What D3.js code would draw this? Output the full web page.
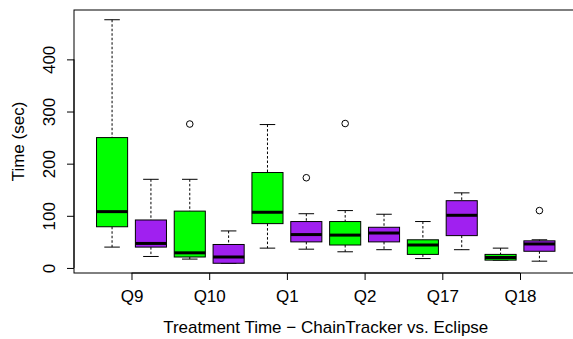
<!DOCTYPE html>
<html>
<head>
<meta charset="utf-8">
<script src="https://cdn.jsdelivr.net/npm/d3@7"></script>
<style>
  body { margin: 0; background: #fff; }
  text { font-family: "Liberation Sans", Arial, sans-serif; fill: #000; }
</style>
</head>
<body>
<div id="plot"></div>
<script>
// questions on the x axis
const questions = ["Q9", "Q10", "Q1", "Q2", "Q17", "Q18"];
const treatments = ["ChainTracker", "Eclipse"];
const fills = ["#00ff00", "#a020f0"];

// box stats per question: [lower whisker, Q1, median, Q3, upper whisker]
const chainTrackerStats = [
    [40, 79, 108, 250, 476],
    [17, 21, 29, 109, 170],
    [38, 85, 107, 183, 275],
    [31, 44, 63, 89, 110],
    [18, 26, 44, 54, 89],
    [15, 15, 20, 26, 38]
];
const eclipseStats = [
    [22, 40, 47, 92, 170],
    [9, 9, 21, 45, 71],
    [36, 50, 64, 89, 104],
    [35, 50, 67, 78, 103],
    [35, 62, 101, 129, 144],
    [13, 32, 46, 52, 54]
];
// outliers per question
const chainTrackerOutliers = [[], [276], [], [277], [], []];
const eclipseOutliers = [[], [], [173], [], [], [110]];

const yTicks = [0, 100, 200, 300, 400];

const width = 573, height = 339;
const margin = { top: 10, left: 74, bottom: 66 };
const plotBottom = height - margin.bottom;
const fontSize = "17px";

// one box per question and treatment, positioned 1..12
const boxes = [];
questions.forEach(function (q, i) {
    [chainTrackerStats, eclipseStats].forEach(function (stats, t) {
        const s = stats[i];
        boxes.push({
            pos: 2 * i + 1 + t,
            lo: s[0], q1: s[1], med: s[2], q3: s[3], hi: s[4],
            out: (t === 0 ? chainTrackerOutliers : eclipseOutliers)[i],
            fill: fills[t]
        });
    });
});

// R style axis: 4% extension on both sides
const n = boxes.length;
const xScale = d3.scaleLinear()
    .domain([0.5 - 0.04 * n, n + 0.5 + 0.04 * n])
    .range([margin.left, margin.left + 503.5]);

const allVals = boxes.flatMap(d => [d.lo, d.hi].concat(d.out));
const yMin = d3.min(allVals), yMax = d3.max(allVals);
const pad = (yMax - yMin) * 0.04;
const yScale = d3.scaleLinear()
    .domain([yMin - pad, yMax + pad])
    .range([plotBottom, margin.top]);

const svg = d3.select("#plot")
    .append("svg")
    .attr("width", width)
    .attr("height", height);

const boxW = xScale(0.8) - xScale(0);
const capW = boxW / 2;

const g = svg.selectAll("g.box")
    .data(boxes)
    .enter().append("g")
    .attr("class", "box");

// whiskers
g.append("line")
    .attr("x1", d => xScale(d.pos)).attr("x2", d => xScale(d.pos))
    .attr("y1", d => yScale(d.hi)).attr("y2", d => yScale(d.q3))
    .attr("stroke", "#000").attr("stroke-dasharray", "2.5,2");
g.append("line")
    .attr("x1", d => xScale(d.pos)).attr("x2", d => xScale(d.pos))
    .attr("y1", d => yScale(d.q1)).attr("y2", d => yScale(d.lo))
    .attr("stroke", "#000").attr("stroke-dasharray", "2.5,2");
// caps
["hi", "lo"].forEach(function (k) {
    g.append("line")
        .attr("x1", d => xScale(d.pos) - capW / 2).attr("x2", d => xScale(d.pos) + capW / 2)
        .attr("y1", d => yScale(d[k])).attr("y2", d => yScale(d[k]))
        .attr("stroke", "#000");
});
// box
g.append("rect")
    .attr("x", d => xScale(d.pos) - boxW / 2)
    .attr("y", d => yScale(d.q3))
    .attr("width", boxW)
    .attr("height", d => yScale(d.q1) - yScale(d.q3))
    .attr("fill", d => d.fill)
    .attr("stroke", "#000");
// median
g.append("line")
    .attr("x1", d => xScale(d.pos) - boxW / 2).attr("x2", d => xScale(d.pos) + boxW / 2)
    .attr("y1", d => yScale(d.med)).attr("y2", d => yScale(d.med))
    .attr("stroke", "#000").attr("stroke-width", 3);
// outliers
g.selectAll("circle")
    .data(d => d.out.map(v => ({ pos: d.pos, v: v })))
    .enter().append("circle")
    .attr("cx", d => xScale(d.pos))
    .attr("cy", d => yScale(d.v))
    .attr("r", 3.3)
    .attr("fill", "none")
    .attr("stroke", "#000");

// frame
const [fx0, fx1] = xScale.range();
svg.append("rect")
    .attr("x", fx0).attr("y", margin.top)
    .attr("width", fx1 - fx0).attr("height", plotBottom - margin.top)
    .attr("fill", "none").attr("stroke", "#000");

// y axis
const yAxis = svg.append("g")
    .attr("transform", "translate(" + fx0 + ",0)")
    .call(d3.axisLeft(yScale).tickValues(yTicks).tickSize(7).tickSizeOuter(0).tickPadding(0));
yAxis.select(".domain")
    .attr("d", "M0," + yScale(yTicks[0]) + "V" + yScale(yTicks[yTicks.length - 1]));
yAxis.selectAll(".tick text")
    .attr("transform", "rotate(-90)")
    .attr("x", 0).attr("y", -19).attr("dy", 0)
    .attr("text-anchor", "middle")
    .style("font-size", fontSize);

// x axis
const xTickPos = questions.map((q, i) => 2 * i + 1.5);
const xAxis = svg.append("g")
    .attr("transform", "translate(0," + plotBottom + ")")
    .call(d3.axisBottom(xScale).tickValues(xTickPos)
        .tickFormat((d, i) => questions[i]).tickSize(7).tickSizeOuter(0).tickPadding(0));
xAxis.select(".domain")
    .attr("d", "M" + xScale(xTickPos[0]) + ",0H" + xScale(xTickPos[xTickPos.length - 1]));
xAxis.selectAll(".tick text")
    .attr("y", 29).attr("dy", 0)
    .style("font-size", fontSize);
svg.selectAll(".tick line, .domain").attr("stroke", "#000");

// labels
svg.append("text")
    .attr("x", (fx0 + fx1) / 2)
    .attr("y", 333)
    .attr("text-anchor", "middle")
    .style("font-size", fontSize)
    .text("Treatment Time \u2212 ChainTracker vs. Eclipse");

svg.append("text")
    .attr("transform", "rotate(-90)")
    .attr("x", -(margin.top + plotBottom) / 2)
    .attr("y", 24)
    .attr("text-anchor", "middle")
    .style("font-size", fontSize)
    .text("Time (sec)");
</script>
</body>
</html>
